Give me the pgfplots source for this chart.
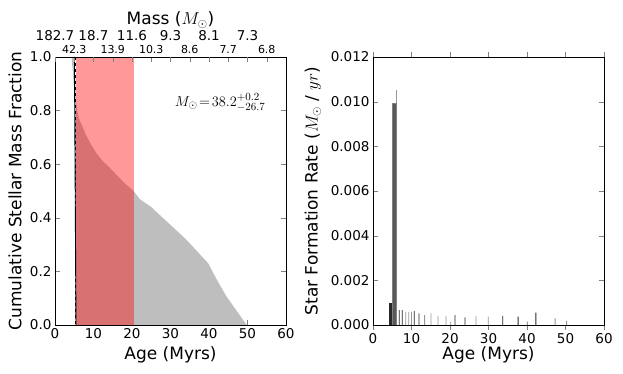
\documentclass[border=0pt]{standalone}
\usepackage{fontspec}
\setmainfont{DejaVu Sans}
\usepackage{pgfplots}
\pgfplotsset{compat=1.18}

\definecolor{fillgray}{RGB}{190,190,190}
\definecolor{bardark}{RGB}{40,40,40}
\definecolor{barlight}{RGB}{150,150,150}

\pgfplotsset{
  panel/.style={
    scale only axis, width=231pt, height=268pt, anchor=south west,
    xmin=0, xmax=60, xtick={0,10,...,60},
    tick align=inside, major tick length=5pt,
    tick label style={font=\fontsize{13.5}{13.5}\selectfont},
    /pgf/number format/assume math mode=true,
    label style={font=\fontsize{17}{17}\selectfont},
    xlabel={Age (Myrs)},
    xlabel style={at={(axis description cs:0.5,-0.112)}, anchor=center},
    axis line style={line width=0.8pt},
  }
}

\begin{document}
\begin{tikzpicture}
\path[use as bounding box] (0,0) rectangle (623pt,374pt);

% left panel: cumulative stellar mass fraction
\begin{axis}[panel, at={(55pt,49pt)},
  ymin=0, ymax=1, ytick={0,0.2,...,1.0},
  yticklabel style={/pgf/number format/.cd, fixed, precision=1, zerofill},
  xtick pos=bottom,
  ylabel={Cumulative Stellar Mass Fraction},
  ylabel style={at={(axis description cs:-0.173,0.5)}, anchor=center},
]
\addplot[fill=fillgray, draw=none] coordinates {
  (4.3,1.0) (4.9,1.0) (5.2,0.9) (5.4,0.84) (5.8,0.80) (6.2,0.77) (7,0.745)
  (8,0.71) (9.5,0.67) (10.8,0.64) (12.5,0.61) (14,0.59) (16,0.56) (18,0.53)
  (20.4,0.50) (22,0.47) (25,0.44) (28,0.40) (34,0.32) (39.8,0.23) (42,0.17)
  (44.6,0.105) (49.8,0.0) (5.5,0.0) (5.1,0.85) (4.6,0.95)} -- cycle;
\addplot[fill=red, fill opacity=0.4, draw=none] coordinates {
  (5.4,0) (20.4,0) (20.4,1) (5.4,1)} -- cycle;
\addplot[black, line width=0.9pt] coordinates {(5.05,1) (5.45,0)};
\addplot[black, dashed, line width=0.9pt] coordinates {(5.3,1) (5.3,0)};
\node[anchor=center, font=\fontsize{15}{15}\selectfont] at (axis cs:42.9,0.83)
  {$M_\odot\!=\!38.2^{+0.2}_{-26.7}$};
\end{axis}

% top axis: mass
\begin{axis}[scale only axis, width=231pt, height=268pt, anchor=south west,
  at={(55pt,49pt)},
  xmin=0, xmax=60, ymin=0, ymax=1,
  axis x line*=top, axis y line=none,
  tick align=inside, major tick length=5pt,
  xtick={5,15,...,55},
  xticklabels={42.3,13.9,10.3,8.6,7.7,6.8},
  xticklabel style={font=\fontsize{11}{11}\selectfont},
  extra x ticks={0,10,20,30,40,50},
  extra x tick labels={182.7,18.7,11.6,9.3,8.1,7.3},
  extra x tick style={xticklabel style={font=\fontsize{13.5}{13.5}\selectfont, yshift=13pt}},
  xlabel={Mass ($M_\odot$)},
  xlabel style={font=\fontsize{17}{17}\selectfont, at={(axis description cs:0.5,1.138)}, anchor=center},
  axis line style={line width=0.8pt},
]
\addplot[draw=none] coordinates {(0,0) (60,1)};
\end{axis}

% right panel: star formation rate
\begin{axis}[panel, at={(373pt,49pt)},
  ymin=0, ymax=0.012, ytick={0,0.002,...,0.012},
  scaled y ticks=false,
  yticklabel style={/pgf/number format/.cd, fixed, precision=3, zerofill},
  ylabel={Star Formation Rate ($M_\odot$ / $yr$)},
  ylabel style={at={(axis description cs:-0.26,0.5)}, anchor=center},
  ybar, bar shift=0pt,
]
\addplot[fill=barlight, draw=none, bar width=0.25] coordinates {(6.0,0.0105)};
\addplot[fill=black!65, draw=gray, bar width=1.1] coordinates {(5.42,0.00992)};
\addplot[fill=bardark, draw=none, bar width=0.7] coordinates {(4.6,0.00099)};
\addplot[fill=bardark, draw=none, bar width=0.22] coordinates {
  (6.8,0.00067) (7.6,0.00067) (10.7,0.00062) (11.95,0.00052) (21.3,0.00044)
  (23.9,0.00034) (33.7,0.00041) (37.7,0.00037) (42.3,0.00055)};
\addplot[fill=barlight, draw=none, bar width=0.22] coordinates {
  (8.5,0.00059) (9.3,0.00059) (10.0,0.00059) (13.4,0.00044) (15.06,0.00052)
  (16.9,0.00041) (18.96,0.00041) (20.2,0.00015) (26.75,0.00040) (29.95,0.00037)
  (40.1,0.00015) (47.3,0.00030) (50.3,0.00018)};
\end{axis}
\end{tikzpicture}
\end{document}
